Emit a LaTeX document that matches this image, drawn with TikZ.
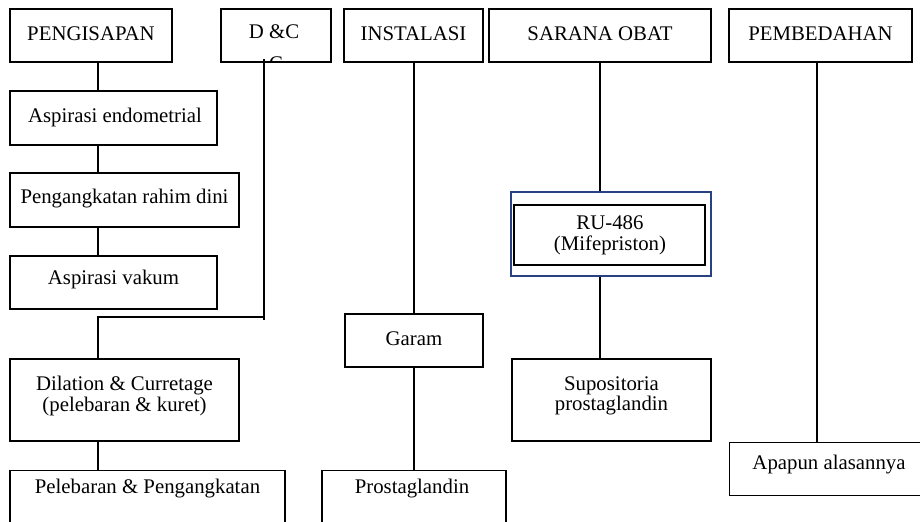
\documentclass[tikz,border=0pt]{standalone}
\usepackage{fontspec}
\setmainfont{Liberation Serif}
\definecolor{navy}{RGB}{40,65,130}
\begin{document}
\begin{tikzpicture}[x=0.75pt,y=-0.75pt,
  box/.style={draw, line width=1pt, inner sep=0pt, align=center, font=\fontsize{15.6}{15.5}\selectfont},
  lbl/.style={inner sep=0pt, align=center, font=\fontsize{15.6}{15.5}\selectfont},
  conn/.style={line width=1pt}]
\useasboundingbox[clip] (0,0) rectangle (920,521);
\fill[white] (0,0) rectangle (920,521);
% top row
\node[box, minimum width=162*0.75pt, minimum height=53*0.75pt] (pen) at (91,35.5) {};
\node[lbl] (pent) at (91,34) {PENGISAPAN};
\node[box, minimum width=110*0.75pt, minimum height=53*0.75pt] (dc) at (276,35.5) {};
\node[lbl] (dct) at (274,32) {D \&C};
\begin{scope}
\clip (222,10) rectangle (330,60.5);
\node[lbl, anchor=north] (dcc) at (276,56) {C};
\end{scope}
\node[box, minimum width=139*0.75pt, minimum height=53*0.75pt] (ins) at (413.5,35.5) {};
\node[lbl] (inst) at (413.5,34) {INSTALASI};
\node[box, minimum width=222*0.75pt, minimum height=53*0.75pt] (sar) at (600,35.5) {};
\node[lbl] (sart) at (600,34) {SARANA OBAT};
\node[box, minimum width=183*0.75pt, minimum height=53*0.75pt] (pem) at (820.5,35.5) {};
\node[lbl] (pemt) at (820.5,34) {PEMBEDAHAN};
% column 1
\node[box, minimum width=207*0.75pt, minimum height=54*0.75pt] (ae) at (113.5,118) {};
\node[lbl] (aet) at (115,117) {Aspirasi endometrial};
\node[box, minimum width=229*0.75pt, minimum height=54*0.75pt] (pr) at (124.5,200) {};
\node[lbl] (prt) at (124.5,199) {Pengangkatan rahim dini};
\node[box, minimum width=207*0.75pt, minimum height=53*0.75pt] (av) at (113.5,282.5) {};
\node[lbl] (avt) at (113.5,279) {Aspirasi vakum};
\node[box, minimum width=229*0.75pt, minimum height=82*0.75pt] (dil) at (124.5,400) {};
\node[lbl] (dilt) at (124.5,396) {Dilation \& Curretage\\(pelebaran \& kuret)};
\node[box, minimum width=275*0.75pt, minimum height=90*0.75pt, anchor=north] (peb) at (147.5,470) {};
\node[lbl] (pebt) at (147.5,489) {Pelebaran \& Pengangkatan};
% column instalasi
\node[box, minimum width=138*0.75pt, minimum height=53*0.75pt] (gar) at (414,340.5) {};
\node[lbl] (gart) at (414,339) {Garam};
\node[box, minimum width=184*0.75pt, minimum height=90*0.75pt, anchor=north] (pros) at (414,470) {};
\node[lbl] (prost) at (412,489) {Prostaglandin};
% column sarana obat
\node[draw=navy, line width=0.9pt, minimum width=200*0.75pt, minimum height=84*0.75pt, inner sep=0pt] (ruo) at (611,234) {};
\node[box, line width=1.6pt, minimum width=191*0.75pt, minimum height=60*0.75pt] (rui) at (609.5,235) {};
\node[lbl] (ruit) at (610,235) {RU-486\\(Mifepriston)};
\node[box, minimum width=199*0.75pt, minimum height=82*0.75pt] (sup) at (611.5,400) {};
\node[lbl] (supt) at (611.5,396) {Supositoria\\prostaglandin};
% column pembedahan
\node[box, minimum width=231*0.75pt, minimum height=53*0.75pt, anchor=north west] (apa) at (729,442) {};
\node[lbl] (apat) at (829,465) {Apapun alasannya};
% connectors
\coordinate (colA) at (98,0);
\coordinate (dcs) at (264,59);
\coordinate (dce) at (264,320);
\coordinate (dcj) at (264,317);
\coordinate (dcl) at (98,317);
\draw[conn] (pen.south -| colA) -- (ae.north -| colA);
\draw[conn] (ae.south -| colA) -- (pr.north -| colA);
\draw[conn] (pr.south -| colA) -- (av.north -| colA);
\draw[conn] (dcs) -- (dce);
\draw[conn] (dcj) -- (dcl) -- (dil.north -| colA);
\draw[conn] (dil.south -| colA) -- (peb.north -| colA);
\coordinate (colI) at (414,0);
\draw[conn] (ins.south -| colI) -- (gar.north -| colI);
\draw[conn] (gar.south -| colI) -- (pros.north -| colI);
\coordinate (colS) at (600,0);
\draw[conn] (sar.south -| colS) -- (ruo.north -| colS);
\draw[conn] (ruo.south -| colS) -- (sup.north -| colS);
\coordinate (colP) at (817,0);
\draw[conn] (pem.south -| colP) -- (apa.north -| colP);
\end{tikzpicture}
\end{document}
